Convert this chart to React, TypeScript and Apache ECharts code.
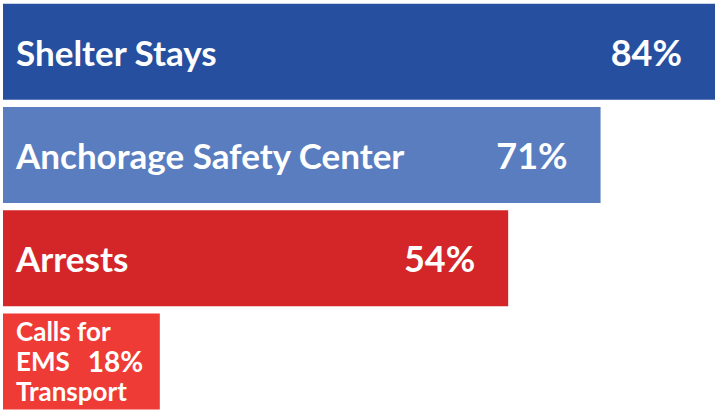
import React, { useEffect, useRef } from "react";
import * as echarts from "echarts";

const categories = ["Shelter Stays", "Anchorage Safety Center", "Arrests", "Calls for EMS Transport"];
const percentLabels = [84, 71, 54, 18];
const barValues = [84, 70.5, 59.6, 18.5];
const barColors = ["#264fa0", "#5a7dc0", "#d42628", "#ef3b35"];

export default function App() {
  const ref = useRef<HTMLDivElement>(null);
  useEffect(() => {
    const chart = echarts.init(ref.current!, null, { renderer: "svg" });
    const font = "Lato";
    const nameData = barValues.map((v, i) => {
      if (i === 3) {
        return {
          value: v,
          itemStyle: { color: barColors[i] },
          label: {
            show: true,
            position: "insideLeft",
            distance: 13,
            formatter: "{n|Calls for}\n{n|EMS}{v|" + percentLabels[i] + "%}\n{n|Transport}",
            rich: {
              n: { fontFamily: font, fontWeight: "bold", fontSize: 26, color: "#fff", lineHeight: 30 },
              v: {
                fontFamily: font,
                fontWeight: "bold",
                fontSize: 28,
                color: "#fff",
                lineHeight: 30,
                padding: [0, 0, 0, 18],
              },
            },
          },
        };
      }
      return {
        value: v,
        itemStyle: { color: barColors[i] },
        label: {
          show: true,
          position: "insideLeft",
          distance: 13,
          formatter: categories[i],
          fontFamily: font,
          fontWeight: "bold",
          fontSize: 35,
          color: "#fff",
        },
      };
    });
    const valueData = barValues.map((v, i) => ({
      value: v,
      label: {
        show: i !== 3,
        position: "insideRight",
        distance: 33,
        formatter: percentLabels[i] + "%",
        fontFamily: font,
        fontWeight: "bold",
        fontSize: 36,
        color: "#fff",
      },
    }));
    chart.setOption({
      animation: false,
      grid: { left: 3, right: 5, top: -1, height: 416 },
      xAxis: { type: "value", min: 0, max: 84, show: false },
      yAxis: {
        type: "category",
        data: categories,
        inverse: true,
        show: false,
      },
      series: [
        { type: "bar", data: nameData, barWidth: 96, silent: true },
        {
          type: "bar",
          data: valueData,
          barWidth: 96,
          barGap: "-100%",
          itemStyle: { color: "transparent" },
          silent: true,
        },
      ],
    });
    return () => chart.dispose();
  }, []);
  return (
    <div
      ref={ref}
      style={{ position: "fixed", left: 0, top: 0, width: 720, height: 413, background: "#fff" }}
    />
  );
}
